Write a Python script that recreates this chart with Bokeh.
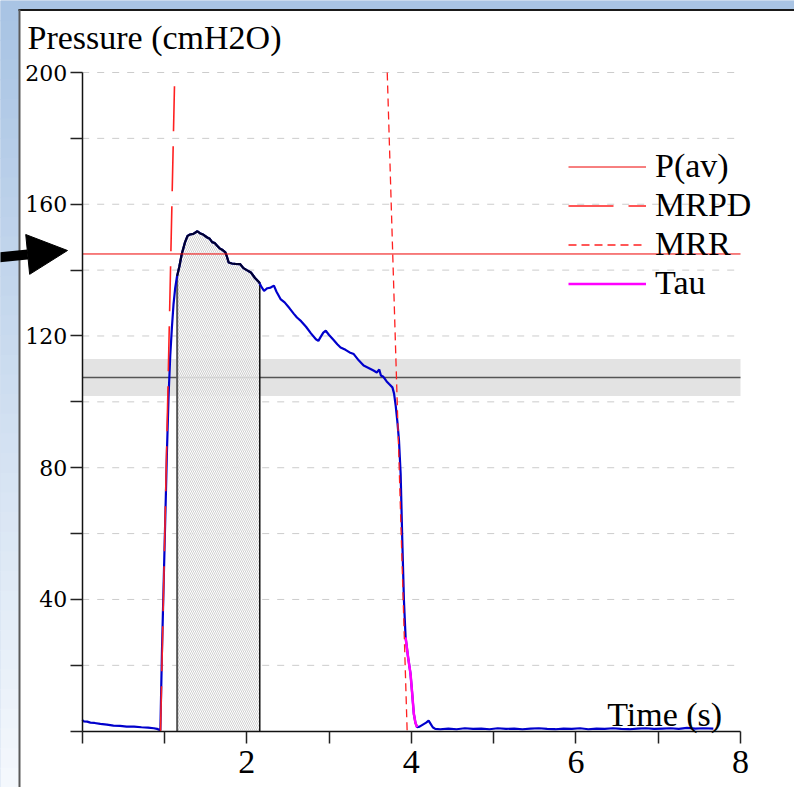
import numpy as np
from bokeh.plotting import figure
from bokeh.models import (Range1d, LinearAxis, FixedTicker, Legend, LegendItem,
                          Label, Arrow, NormalHead)
from bokeh.embed import file_html
from bokeh.resources import INLINE

# ---------------- data ----------------
time_s = [0.00, 0.02, 0.06, 0.10, 0.15, 0.22, 0.30, 0.38, 0.46, 0.54, 0.63, 0.72, 0.80, 0.87, 0.91, 0.95,
          0.97, 1.00, 1.03, 1.05, 1.07, 1.09, 1.11, 1.13, 1.15, 1.18, 1.21, 1.25, 1.28, 1.31, 1.35,
          1.40, 1.43, 1.47, 1.52, 1.55, 1.58, 1.61, 1.64, 1.67, 1.70, 1.74, 1.76, 1.78, 1.82, 1.86,
          1.92, 1.96, 2.00, 2.05, 2.10, 2.15, 2.18, 2.21, 2.25, 2.29, 2.33, 2.36, 2.41, 2.46, 2.52,
          2.57, 2.61, 2.66, 2.72, 2.78, 2.84, 2.87, 2.90, 2.93, 2.96, 3.00, 3.05, 3.10, 3.14, 3.20,
          3.25, 3.30, 3.36, 3.42, 3.48, 3.54, 3.58, 3.61, 3.63, 3.66, 3.70, 3.73, 3.77, 3.79, 3.81,
          3.83, 3.85, 3.87, 3.89, 3.91, 3.93, 3.96, 3.99, 4.01, 4.03, 4.05, 4.07, 4.10, 4.14, 4.18,
          4.21, 4.24, 4.26, 4.29, 4.35, 4.45, 4.55, 4.65, 4.75, 4.85, 4.95, 5.05, 5.15, 5.25, 5.35,
          5.45, 5.55, 5.65, 5.75, 5.85, 5.95, 6.05, 6.15, 6.25, 6.35, 6.45, 6.55, 6.65, 6.75, 6.85,
          6.95, 7.05, 7.15, 7.25, 7.35, 7.45, 7.55, 7.67]
pressure = [3.4, 3.0, 2.9, 2.6, 2.5, 2.2, 2.0, 1.7, 1.6, 1.4, 1.4, 1.2, 1.1, 0.9, 0.7, 0.3,
            25.0, 55.0, 85.0, 102.0, 114.0, 122.5, 129.7, 134.5, 137.8, 141.0, 144.9, 148.5, 150.4, 150.8, 151.0,
            151.8, 151.2, 150.8, 149.9, 149.5, 148.5, 148.2, 147.4, 146.6, 146.2, 145.4, 144.0, 142.3, 142.0, 141.9,
            141.8, 140.6, 140.0, 139.3, 137.6, 136.3, 134.8, 133.7, 134.5, 134.7, 135.3, 133.5, 131.2, 130.2, 128.4,
            126.8, 125.6, 124.5, 122.8, 120.8, 119.0, 118.5, 119.8, 121.0, 121.6, 120.3, 118.9, 117.5, 116.5, 115.8,
            115.0, 114.5, 112.6, 111.0, 110.3, 109.5, 108.9, 109.8, 108.0, 107.6, 106.2, 105.4, 104.4, 102.5, 98.8,
            94.0, 88.2, 78.1, 57.9, 39.7, 28.5, 22.5, 17.4, 11.5, 5.3, 2.5, 1.2, 1.4, 2.0, 2.6,
            3.2, 2.0, 1.2, 0.7, 0.6, 0.8, 0.6, 0.9, 0.7, 0.8, 0.6, 0.9, 0.7, 0.8, 0.6,
            0.8, 0.9, 0.7, 0.6, 0.8, 0.7, 0.9, 0.6, 0.8, 0.7, 0.9, 0.7, 0.6, 0.8, 0.9,
            0.7, 0.8, 0.9, 0.7, 1.0, 0.8, 0.9, 0.8]

x_ticks = [0, 1, 2, 3, 4, 5, 6, 7, 8]
x_tick_labels = {0: "", 1: "", 2: "2", 3: "", 4: "4", 5: "", 6: "6", 7: "", 8: "8"}
y_ticks = [0, 20, 40, 60, 80, 100, 120, 140, 160, 180, 200]
y_tick_labels = {0: "", 20: "", 40: "40", 60: "", 80: "80", 100: "", 120: "120",
                 140: "", 160: "160", 180: "", 200: "200"}
grid_levels = [20, 40, 60, 80, 100, 120, 140, 160, 180, 200]

p_av = 144.9                       # P(av)
band_low, band_mid, band_high = 101.8, 107.4, 113.0
mrpd_t, mrpd_p = [0.952, 1.125], [0, 200]    # MRPD tangent
mrr_t, mrr_p = [3.707, 3.949], [200, 0]      # MRR tangent
tau_start, tau_end = 3.925, 4.075
win_start, win_end = 1.154, 2.158            # averaging window

legend_labels = ["P(av)", "MRPD", "MRR", "Tau"]

# ---------------- page geometry (pixels) ----------------
W, H = 794, 787
X0PX, X8PX = 81.7, 740.0
Y0PX, Y200PX = 730.7, 72.0
SX = (X8PX - X0PX) / 8.0
SY = (Y0PX - Y200PX) / 200.0


def X(px):
    return (px - X0PX) / SX


def Y(py):
    return (Y0PX - py) / SY


p = figure(width=W, height=H, x_range=Range1d(X(0), X(W)), y_range=Range1d(Y(H), Y(0)),
           x_axis_type=None, y_axis_type=None, toolbar_location=None,
           output_backend="svg", min_border=0)
p.outline_line_color = None
p.background_fill_color = "#a9c4e4"
p.border_fill_color = "#a9c4e4"

# slide background gradient
N = 40
tops = [Y(i * H / N) for i in range(N)]
bots = [Y((i + 1) * H / N + 1) for i in range(N)]
c0 = np.array([169, 196, 228])
c1 = np.array([244, 248, 253])
cols = []
for i in range(N):
    f = i / (N - 1)
    c = (c0 + (c1 - c0) * f).astype(int)
    cols.append("#%02x%02x%02x" % tuple(c))
p.quad(left=X(-2), right=X(W + 2), top=tops, bottom=bots, fill_color=cols, line_color=None)

# white panel with border
p.quad(left=X(19), right=X(W + 5), top=Y(9), bottom=Y(H + 5), fill_color="white", line_color=None)
p.segment(x0=X(18), y0=Y(9.5), x1=X(W + 2), y1=Y(9.5), line_color="#1a1a1a", line_width=2)
p.segment(x0=X(19), y0=Y(9), x1=X(19), y1=Y(H + 2), line_color="#5a5a5a", line_width=2)

# grid lines
p.segment(x0=[0] * len(grid_levels), x1=[8] * len(grid_levels), y0=grid_levels, y1=grid_levels,
          line_color="#cccccc", line_width=1, line_dash="7 8")

# grey band
p.quad(left=0, right=8, bottom=band_low, top=band_high, fill_color="#e3e3e3", line_color=None)
p.line([0, 8], [band_mid, band_mid], line_color="#555555", line_width=1.5)

# averaging window (hatched area under curve)
t = np.array(time_s)
pr = np.array(pressure)
m = (t > win_start) & (t < win_end)
wx = np.concatenate([[win_start], t[m], [win_end]])
wy = np.concatenate([[np.interp(win_start, t, pr)], pr[m], [np.interp(win_end, t, pr)]])
p.varea(x=wx, y1=0, y2=wy, fill_color="white", fill_alpha=0.8,
        hatch_pattern="left_diagonal_line", hatch_color="#c4c4c4", hatch_scale=4, hatch_weight=0.8)
p.segment(x0=win_start, y0=0, x1=win_start, y1=wy[0], line_color="#555555", line_width=2)
p.segment(x0=win_end, y0=0, x1=win_end, y1=wy[-1], line_color="#111111", line_width=1.5)

# pressure curve
p.line(time_s, pressure, line_color="#0000cc", line_width=2.2)
p.line(wx, wy, line_color="#000030", line_width=2.2)
mt = (t >= tau_start) & (t <= tau_end)
r_tau = p.line(t[mt], pr[mt], line_color="#ff00ff", line_width=2.5)

# reference lines
r_pav = p.line([0, 8], [p_av, p_av], line_color="#ee0000", line_width=1)
r_mrpd = p.line(mrpd_t, mrpd_p, line_color="#ff2020", line_width=1.6, line_dash="45 15")
r_mrr = p.line(mrr_t, mrr_p, line_color="#ff2020", line_width=1.3, line_dash="8 5")

# axes
yaxis = LinearAxis(fixed_location=0, bounds=(0, 200),
                   ticker=FixedTicker(ticks=y_ticks, minor_ticks=[]),
                   major_label_overrides=y_tick_labels)
xaxis = LinearAxis(fixed_location=0, bounds=(0, 8),
                   ticker=FixedTicker(ticks=x_ticks, minor_ticks=[]),
                   major_label_overrides=x_tick_labels)
for ax in (yaxis, xaxis):
    ax.axis_line_color = "#111111"
    ax.axis_line_width = 1.5
    ax.major_tick_line_color = "#222222"
    ax.major_tick_line_width = 1.5
    ax.major_tick_out = 12
    ax.major_tick_in = 0
    ax.minor_tick_line_color = None
    ax.major_label_text_color = "black"
yaxis.major_label_text_font = "DejaVu Serif"
yaxis.major_label_text_font_size = "22px"
yaxis.major_label_standoff = 3
xaxis.major_label_text_font = "Liberation Serif"
xaxis.major_label_text_font_size = "34px"
xaxis.major_label_standoff = 8
p.add_layout(yaxis, "left")
p.add_layout(xaxis, "below")

# axis titles
p.add_layout(Label(x=X(27), y=Y(37), text="Pressure (cmH2O)", text_font="Liberation Serif",
                   text_font_size="34px", text_baseline="alphabetic", text_color="black"))
p.add_layout(Label(x=X(606.7), y=Y(714), text="Time (s)", text_font="Liberation Serif",
                   text_font_size="34px", text_baseline="alphabetic", text_color="black"))

# arrow
p.add_layout(Arrow(x_start=X(-4), y_start=Y(257), x_end=X(67), y_end=Y(250),
                   line_width=10, line_color="black",
                   end=NormalHead(size=40, fill_color="black", line_color="black", line_width=1)))

# legend
legend = Legend(items=[LegendItem(label=legend_labels[0], renderers=[r_pav]),
                       LegendItem(label=legend_labels[1], renderers=[r_mrpd]),
                       LegendItem(label=legend_labels[2], renderers=[r_mrr]),
                       LegendItem(label=legend_labels[3], renderers=[r_tau])],
                location=(568, H - 302.5), margin=0, padding=0, spacing=0,
                glyph_width=78, glyph_height=39, label_height=39, label_standoff=9,
                label_text_font="Liberation Serif", label_text_font_size="34px",
                label_text_color="black",
                background_fill_alpha=0, border_line_alpha=0)
p.add_layout(legend)

open("out.html", "w").write(file_html(p, INLINE))
